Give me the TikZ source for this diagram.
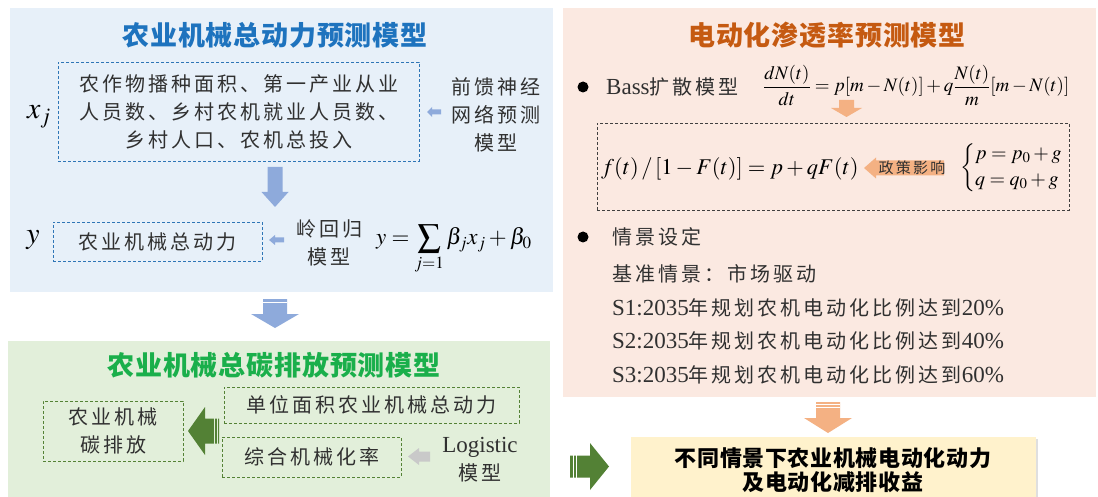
\documentclass[tikz,border=0pt]{standalone}
\usepackage{mathptmx}
\usepackage[no-math]{fontspec}
\setmainfont{Liberation Serif}
\newfontfamily\cjk[LetterSpace=15]{Noto Sans CJK SC}
\newfontfamily\cjkt[LetterSpace=3]{Noto Sans CJK SC}
\usetikzlibrary{shadows}
\definecolor{bluebg}{HTML}{E7F0F9}
\definecolor{bluetitle}{HTML}{1E73BE}
\definecolor{bluedash}{HTML}{2E75B6}
\definecolor{bluearrow}{HTML}{8EAADB}
\definecolor{greenbg}{HTML}{E2EFDA}
\definecolor{greentitle}{HTML}{1AAF4B}
\definecolor{greendash}{HTML}{548235}
\definecolor{greenarrow}{HTML}{538135}
\definecolor{grayarrow}{HTML}{C9C9C9}
\definecolor{orangebg}{HTML}{FBE9E1}
\definecolor{orangetitle}{HTML}{C55A11}
\definecolor{orangearrow}{HTML}{F4B183}
\definecolor{yellowbg}{HTML}{FFF2CC}
\definecolor{txt}{HTML}{303030}
\newcommand\lat[1]{{\fontsize{23}{28}\selectfont\rmfamily #1}}
% down arrow: xc, ytop, shaftw, headw, yhead, ytip, colour
\newcommand\arrdown[7]{\fill[#7] ({#1-#3/2},#2) -- ({#1+#3/2},#2) -- ({#1+#3/2},#5) -- ({#1+#4/2},#5) -- (#1,#6) -- ({#1-#4/2},#5) -- ({#1-#3/2},#5) -- cycle;}
% horizontal arrow: yc, xtail, shafth, headh, xhead, xtip, colour
\newcommand\arrhor[7]{\fill[#7] (#2,{#1-#3/2}) -- (#5,{#1-#3/2}) -- (#5,{#1-#4/2}) -- (#6,#1) -- (#5,{#1+#4/2}) -- (#5,{#1+#3/2}) -- (#2,{#1+#3/2}) -- cycle;}
\begin{document}
\begin{tikzpicture}[x=1pt,y=-1pt,
  ttl/.style={font=\fontsize{27}{30}\selectfont\cjkt\bfseries, inner sep=0},
  body/.style={font=\fontsize{20}{28}\selectfont\cjk, text=txt, align=center, inner sep=0},
  dbox/.style={draw, line width=0.9pt, dash pattern=on 3pt off 2pt, inner sep=0},
  dboxb/.style={dbox, draw=bluedash, body},
  dboxg/.style={dbox, draw=greendash, body},
  mth/.style={inner sep=0, text=black}]
\useasboundingbox (0,0) rectangle (1098,497);
\fill[white] (0,0) rectangle (1098,497);
% panels
\fill[bluebg] (10,8) rectangle (553,292);
\fill[greenbg] (8,341) rectangle (550,497);
\fill[orangebg] (563,8) rectangle (1096,397);

% ===== blue panel =====
\node[ttl, text=bluetitle] (t1) at (275,35) {农业机械总动力预测模型};
\node[dboxb, minimum width=361pt, minimum height=99pt] (b1) at (238.5,111.5)
  {农作物播种面积、第一产业从业\\人员数、乡村农机就业人员数、\\乡村人口、农机总投入};
\node[mth, font=\fontsize{30}{32}\selectfont] (xj) at (39,117) {$x_j$};
\node[body] (ffnn) at (496,115) {前馈神经\\网络预测\\模型};
\arrhor{112}{441}{5}{10}{432}{427}{bluearrow}
\arrdown{275}{167}{15}{27}{192}{207}{bluearrow}
\node[dboxb, minimum width=209pt, minimum height=39pt] (b2) at (157.5,241.5) {农业机械总动力};
\node[mth, font=\fontsize{30}{32}\selectfont] (yl) at (33,240) {$y$};
\node[body] (ridge) at (329,243) {岭回归\\模型};
\arrhor{240}{284}{5}{10}{275}{269}{bluearrow}
\node[mth, anchor=base west, font=\fontsize{23}{26}\selectfont] (f1) at (376,245)
  {$y=\displaystyle\sum_{j=1}\beta_j x_j+\beta_0$};

% arrow between blue and green panels
\arrdown{275}{299}{24}{48}{314}{328}{bluearrow}
\draw[white, line width=0.8pt] (263,302.5) -- (287,302.5);

% ===== green panel =====
\node[ttl, text=greentitle] (t2) at (274,365) {农业机械总碳排放预测模型};
\node[dboxg, minimum width=140pt, minimum height=60pt] (b3) at (113,431) {农业机械\\碳排放};
\node[dboxg, minimum width=295pt, minimum height=36pt] (b4) at (371.5,405) {单位面积农业机械总动力};
\node[dboxg, minimum width=179pt, minimum height=40pt] (b5) at (311.5,457) {综合机械化率};
\node[body] (logi) at (480,460) {\lat{Logistic}\\模型};
\arrhor{431}{219}{25}{48}{205}{188}{greenarrow}
\draw[greenbg, line width=0.9pt] (214.5,418) -- (214.5,444);
\draw[greenbg, line width=0.9pt] (217.5,418) -- (217.5,444);
\arrhor{456.5}{430}{10}{17}{419}{408}{grayarrow}

% ===== orange panel =====
\node[ttl, text=orangetitle] (t3) at (827,35) {电动化渗透率预测模型};
\fill[black] (583,87) circle (5.5pt);
\node[body, anchor=west] (bass) at (606,87) {\lat{Bass}扩散模型};
\node[mth, anchor=base west, font=\fontsize{19}{22}\selectfont] (f2) at (763,92)
  {$\displaystyle\frac{dN(t)}{dt}=p[m-N(t)]+q\frac{N(t)}{m}[m-N(t)]$};
\arrdown{846.5}{100}{15}{31}{108}{117}{orangearrow}
\node[draw=black!75, line width=0.8pt, dash pattern=on 3pt off 2pt, minimum width=472pt, minimum height=87pt, inner sep=0] (b6) at (833,166.5) {};
\node[mth, anchor=base west, font=\fontsize{22.5}{26}\selectfont] (f3) at (601,175)
  {$f(t)\,/\,[1-F(t)]=p+qF(t)$};
\arrhor{168}{944}{15}{21}{876}{864}{orangearrow}
\node[font=\fontsize{15}{18}\selectfont\cjk, text=txt, inner sep=0] (pol) at (912,168) {政策影响};
\node[mth, anchor=west, font=\fontsize{20}{24}\selectfont] (sys) at (960,168)
  {$\left\{\begin{array}{@{}l@{}}p=p_0+g\\[2pt] q=q_0+g\end{array}\right.$};
\fill[black] (583,237) circle (5.5pt);
\node[body, anchor=west] (scen) at (612,237) {情景设定};
\node[body, anchor=west] (basel) at (612,274) {基准情景：市场驱动};
\node[body, anchor=west] (s1) at (612,308) {\lat{S1:2035}年规划农机电动化比例达到\lat{20\%}};
\node[body, anchor=west] (s2) at (612,341) {\lat{S2:2035}年规划农机电动化比例达到\lat{40\%}};
\node[body, anchor=west] (s3) at (612,375) {\lat{S3:2035}年规划农机电动化比例达到\lat{60\%}};

% arrow from orange panel to result
\arrdown{828}{402}{24}{48}{418}{433}{orangearrow}
\draw[white, line width=0.8pt] (816,404.5) -- (840,404.5);
\draw[white, line width=0.8pt] (816,407.5) -- (840,407.5);

% result box
\node[fill=yellowbg, minimum width=405pt, minimum height=64pt, inner sep=0,
  drop shadow={opacity=0.25, shadow xshift=2pt, shadow yshift=-2pt}] (yb) at (833.5,469) {};
\node[font=\fontsize{22}{24}\selectfont\cjkt\bfseries, align=center, inner sep=0] (yt) at (833,470)
  {不同情景下农业机械电动化动力\\及电动化减排收益};
\arrhor{466.5}{570}{22}{47}{590}{609}{greenarrow}
\draw[white, line width=0.8pt] (573.5,455) -- (573.5,478);
\draw[white, line width=0.8pt] (576,455) -- (576,478);
\end{tikzpicture}
\end{document}
